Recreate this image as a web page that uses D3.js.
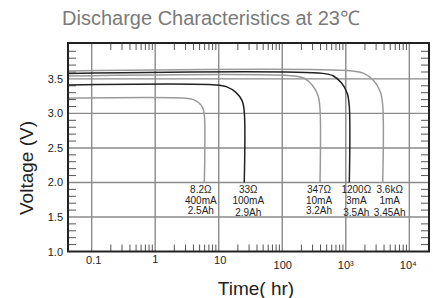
<!DOCTYPE html>
<html>
<head>
<meta charset="utf-8">
<script src="https://cdn.jsdelivr.net/npm/d3@7"></script>
<style>
  body { margin: 0; background: #fff; }
  svg { display: block; font-family: "Liberation Sans", Arial, sans-serif; }
</style>
</head>
<body>
<svg id="chart" width="433" height="298"></svg>
<script>
// curve names, labels and readings (hours, volts)
const loads = ['8.2Ω', '33Ω', '347Ω', '1200Ω', '3.6kΩ'];
const currents = ['400mA', '100mA', '10mA', '3mA', '1mA'];
const capacities = ['2.5Ah', '2.9Ah', '3.2Ah', '3.5Ah', '3.45Ah'];

const time8 = [0.0424, 3.0, 3.9, 4.85, 5.6, 5.93, 5.93];
const volt8 = [3.22, 3.22, 3.203, 3.155, 3.08, 2.98, 2.0];
const time33 = [0.0424, 9.0, 13.4, 18.6, 23.3, 25.2, 25.2];
const volt33 = [3.413, 3.413, 3.385, 3.305, 3.185, 3.03, 2.0];
const time347 = [0.0424, 155, 222, 300, 366, 392.8, 392.8];
const volt347 = [3.543, 3.543, 3.509, 3.405, 3.255, 3.06, 2.0];
const time1200 = [0.0424, 435, 630, 858, 1055, 1136, 1136];
const volt1200 = [3.58, 3.58, 3.545, 3.44, 3.29, 3.1, 2.0];
const time3600 = [0.0424, 1260, 1930, 2760, 3500, 3812, 3812];
const volt3600 = [3.616, 3.616, 3.58, 3.472, 3.31, 3.12, 2.0];

const xTicks = [0.1, 1, 10, 100, 1000, 10000];
const xTickLabels = ['0.1', '1', '10', '100', '10³', '10⁴'];
const yTicks = [1.0, 1.5, 2.0, 2.5, 3.0, 3.5];

const series = [
    {t: time8, v: volt8},
    {t: time33, v: volt33},
    {t: time347, v: volt347},
    {t: time1200, v: volt1200},
    {t: time3600, v: volt3600}
];

const svg = d3.select('#chart');
const pLeft = 68, pRight = 429, pTop = 43, pBottom = 251.5;

const x = d3.scaleLog().domain([0.0424, 20400]).range([pLeft, pRight]);
const y = d3.scaleLinear().domain([1.0, 4.02]).range([pBottom, pTop]);

const gridColor = '#8a8a8a';
const dark = '#222';

// title
svg.append('text')
    .attr('x', 211).attr('y', 25)
    .attr('text-anchor', 'middle')
    .style('fill', '#7a7a7a')
    .style('font-size', '20px')
    .text('Discharge Characteristics at 23℃');

const plot = svg.append('g');

// grid lines
plot.selectAll('.vgrid')
    .data(xTicks)
    .enter().append('line')
    .attr('x1', d => x(d)).attr('x2', d => x(d))
    .attr('y1', pTop).attr('y2', pBottom)
    .attr('stroke', gridColor).attr('stroke-width', 1.4);

plot.selectAll('.hgrid')
    .data(yTicks.slice(1))
    .enter().append('line')
    .attr('x1', pLeft).attr('x2', pRight)
    .attr('y1', d => y(d)).attr('y2', d => y(d))
    .attr('stroke', gridColor).attr('stroke-width', 1.4);

// minor ticks, log style on top and bottom
const minorX = [];
[0.1, 1, 10, 100, 1000].forEach(dec => {
    for (let k = 2; k <= 9; k++) minorX.push(dec * k);
});
const tickLen = 7;
[pTop, pBottom].forEach((edge, i) => {
    plot.append('g').selectAll('line')
        .data(minorX)
        .enter().append('line')
        .attr('x1', d => x(d)).attr('x2', d => x(d))
        .attr('y1', edge).attr('y2', i === 0 ? edge + tickLen : edge - tickLen)
        .attr('stroke', '#555').attr('stroke-width', 1);
});

// minor ticks every 0.1 V on left and right
const minorY = d3.range(11, 41).map(d => d / 10).filter(d => Math.round(d * 10) % 5 !== 0);
[pLeft, pRight].forEach((edge, i) => {
    plot.append('g').selectAll('line')
        .data(minorY)
        .enter().append('line')
        .attr('x1', edge).attr('x2', i === 0 ? edge + 8 : edge - 8)
        .attr('y1', d => y(d)).attr('y2', d => y(d))
        .attr('stroke', '#555').attr('stroke-width', 1);
});

// discharge curves
const line = d3.line()
    .x(d => x(d[0]))
    .y(d => y(d[1]))
    .curve(d3.curveCatmullRom.alpha(0.5));

const curveColors = ['#9a9a9a', dark, '#9a9a9a', dark, '#9a9a9a'];
series.forEach((s, i) => {
    const pts = s.t.map((t, j) => [t, s.v[j]]);
    plot.append('path')
        .attr('d', line(pts))
        .attr('fill', 'none')
        .attr('stroke', curveColors[i])
        .attr('stroke-width', 1.5);
});

// frame
plot.append('rect')
    .attr('x', pLeft).attr('y', pTop)
    .attr('width', pRight - pLeft).attr('height', pBottom - pTop)
    .attr('fill', 'none').attr('stroke', dark).attr('stroke-width', 2);

// curve labels
const labelDx = [-3.5, 4, -1, 7, 7];
const labelDy = [[0, 0, -1.5], [0, 0, 0], [0, 0, -1.5], [0, 0, 0], [0, 0, 0]];
series.forEach((s, i) => {
    const cx = x(s.t[s.t.length - 1]) + labelDx[i];
    const rows = [loads[i], currents[i], capacities[i]];
    rows.forEach((r, j) => {
        svg.append('text')
            .attr('x', cx)
            .attr('y', 192.7 + j * 11.6 + labelDy[i][j])
            .attr('text-anchor', 'middle')
            .style('fill', dark)
            .style('font-size', '10px')
            .text(r);
    });
});

// y tick labels
svg.append('g').selectAll('text')
    .data(yTicks)
    .enter().append('text')
    .attr('x', 63)
    .attr('y', d => y(d) + 4)
    .attr('text-anchor', 'end')
    .style('fill', dark)
    .style('font-size', '11px')
    .text(d => d.toFixed(1));

// x tick labels (the right three sit a bit lower in the original)
const xLabelDx = [2, 0, 1.5, 0.5, 0, -1];
const xLabelBase = [264, 262.7, 264, 269, 269, 269];
svg.append('g').selectAll('text')
    .data(xTicks)
    .enter().append('text')
    .attr('x', (d, i) => x(d) + xLabelDx[i])
    .attr('y', (d, i) => xLabelBase[i])
    .attr('text-anchor', 'middle')
    .style('fill', dark)
    .style('font-size', '11px')
    .text((d, i) => xTickLabels[i]);

// axis titles
svg.append('text')
    .attr('transform', 'translate(33,168) rotate(-90)')
    .attr('text-anchor', 'middle')
    .style('fill', dark)
    .style('font-size', '19px')
    .text('Voltage (V)');

svg.append('text')
    .attr('x', 256).attr('y', 295)
    .attr('text-anchor', 'middle')
    .style('fill', dark)
    .style('font-size', '19px')
    .text('Time( hr)');
</script>
</body>
</html>
